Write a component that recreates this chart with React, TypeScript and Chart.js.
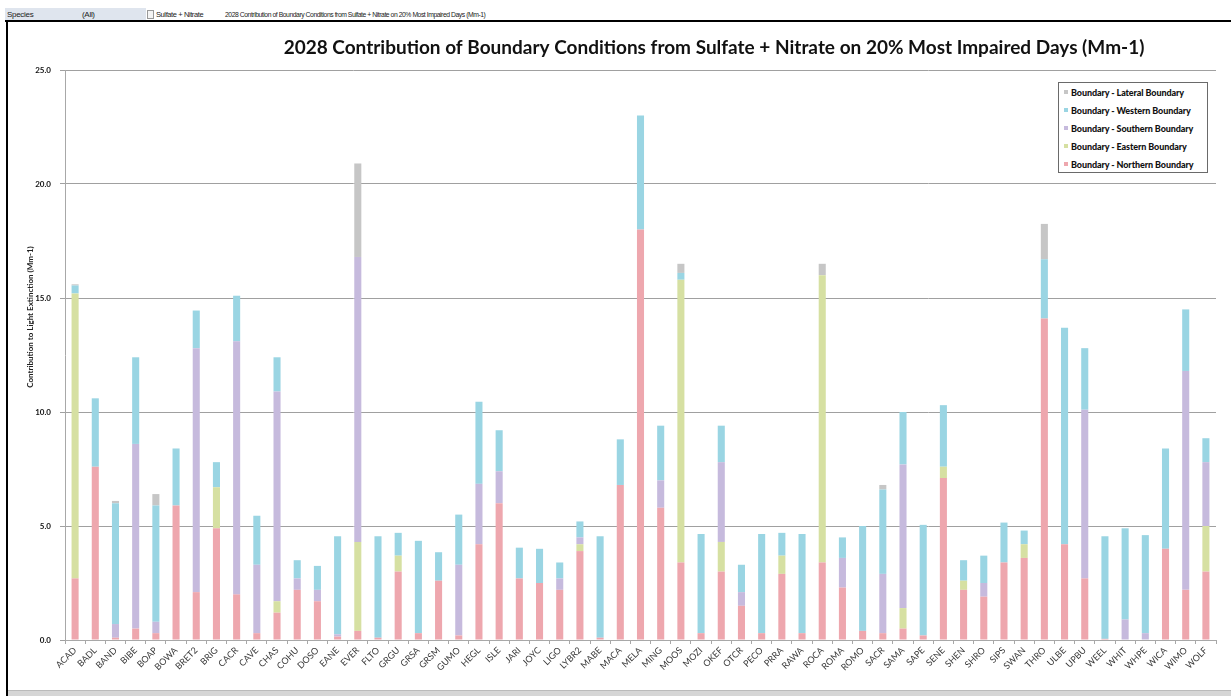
import React, { useEffect, useRef } from "react";
import { Chart, registerables } from "chart.js";

Chart.register(...registerables);

const categories = [
  "ACAD", "BADL", "BAND", "BIBE", "BOAP", "BOWA", "BRET2", "BRIG", "CACR", "CAVE",
  "CHAS", "COHU", "DOSO", "EANE", "EVER", "FLTO", "GRGU", "GRSA", "GRSM", "GUMO",
  "HEGL", "ISLE", "JARI", "JOYC", "LIGO", "LYBR2", "MABE", "MACA", "MELA", "MING",
  "MOOS", "MOZI", "OKEF", "OTCR", "PECO", "PRRA", "RAWA", "ROCA", "ROMA", "ROMO",
  "SACR", "SAMA", "SAPE", "SENE", "SHEN", "SHRO", "SIPS", "SWAN", "THRO", "ULBE",
  "UPBU", "WEEL", "WHIT", "WHPE", "WICA", "WIMO", "WOLF",
];

const northern = [
  2.7, 7.6, 0.1, 0.5, 0.3, 5.9, 2.1, 4.9, 2.0, 0.3,
  1.2, 2.2, 1.7, 0.15, 0.4, 0.1, 3.0, 0.3, 2.6, 0.2,
  4.2, 6.0, 2.7, 2.5, 2.2, 3.9, 0.1, 6.8, 18.0, 5.8,
  3.4, 0.3, 3.0, 1.5, 0.3, 2.9, 0.3, 3.4, 2.3, 0.4,
  0.3, 0.5, 0.2, 7.1, 2.2, 1.9, 3.4, 3.6, 14.1, 4.2,
  2.7, 0.05, 0, 0, 4.0, 2.2, 3.0,
];
const eastern = [
  12.5, 0, 0, 0, 0, 0, 0, 1.8, 0, 0,
  0.5, 0, 0, 0, 3.9, 0, 0.7, 0, 0, 0,
  0, 0, 0, 0, 0, 0.3, 0, 0, 0, 0,
  12.4, 0, 1.3, 0, 0, 0.8, 0, 12.6, 0, 0,
  0, 0.9, 0, 0.5, 0.4, 0, 0, 0.6, 0, 0,
  0, 0, 0, 0, 0, 0, 2.0,
];
const southern = [
  0, 0, 0.6, 8.1, 0.5, 0, 10.7, 0, 11.1, 3.0,
  9.2, 0.5, 0.5, 0.1, 12.5, 0, 0, 0, 0, 3.1,
  2.65, 1.4, 0, 0, 0.5, 0.3, 0, 0, 0, 1.2,
  0, 0, 3.5, 0.6, 0, 0, 0, 0, 1.3, 0,
  2.6, 6.3, 0, 0, 0, 0.6, 0, 0, 0, 0,
  7.4, 0, 0.9, 0.3, 0, 9.6, 2.8,
];
const western = [
  0.35, 3.0, 5.3, 3.8, 5.1, 2.5, 1.65, 1.1, 2.0, 2.15,
  1.5, 0.8, 1.05, 4.3, 0, 4.45, 1.0, 4.05, 1.25, 2.2,
  3.6, 1.8, 1.35, 1.5, 0.7, 0.7, 4.45, 2.0, 5.0, 2.4,
  0.3, 4.35, 1.6, 1.2, 4.35, 1.0, 4.35, 0, 0.9, 4.6,
  3.7, 2.3, 4.85, 2.7, 0.9, 1.2, 1.75, 0.6, 2.6, 9.5,
  2.7, 4.5, 4.0, 4.3, 4.4, 2.7, 1.05,
];
const lateral = [
  0.05, 0, 0.1, 0, 0.5, 0, 0, 0, 0, 0,
  0, 0, 0, 0, 4.1, 0, 0, 0, 0, 0,
  0, 0, 0, 0, 0, 0, 0, 0, 0, 0,
  0.4, 0, 0, 0, 0, 0, 0, 0.5, 0, 0,
  0.2, 0, 0, 0, 0, 0, 0, 0, 1.55, 0,
  0, 0, 0, 0, 0, 0, 0,
];

const yTicks = [0, 5, 10, 15, 20, 25];

const seriesNames = {
  lateral: "Boundary - Lateral Boundary",
  western: "Boundary - Western Boundary",
  southern: "Boundary - Southern Boundary",
  eastern: "Boundary - Eastern Boundary",
  northern: "Boundary - Northern Boundary",
};

const COLORS = {
  northern: "#eea7ae",
  eastern: "#d6e0a2",
  southern: "#c6badd",
  western: "#9ad5e3",
  lateral: "#c6c6c6",
};

const TITLE =
  "2028 Contribution of Boundary Conditions from Sulfate + Nitrate on 20% Most Impaired Days (Mm-1)";
const Y_TITLE = "Contribution to Light Extinction (Mm-1)";

const FONT = "Lato, 'Open Sans', sans-serif";

const textPlugin = {
  id: "customText",
  afterDraw(chart: any) {
    const ctx = chart.ctx;
    ctx.save();
    ctx.fillStyle = "#111";
    ctx.font = `bold 19px ${FONT}`;
    ctx.textAlign = "center";
    ctx.textBaseline = "middle";
    ctx.fillText(TITLE, 707, 26);
    ctx.translate(23, 295);
    ctx.rotate(-Math.PI / 2);
    ctx.font = `bold 8px ${FONT}`;
    ctx.fillStyle = "#222";
    ctx.fillText(Y_TITLE, 0, 0);
    ctx.restore();
  },
};

function ChartCanvas() {
  const ref = useRef<HTMLCanvasElement | null>(null);
  useEffect(() => {
    if (!ref.current) return;
    const mk = (key: keyof typeof COLORS, data: number[]) => ({
      label: (seriesNames as any)[key],
      data,
      backgroundColor: COLORS[key],
      borderWidth: 0,
      barPercentage: 0.35,
      categoryPercentage: 1,
    });
    const chart = new Chart(ref.current, {
      type: "bar",
      data: {
        labels: categories,
        datasets: [
          mk("northern", northern),
          mk("eastern", eastern),
          mk("southern", southern),
          mk("western", western),
          mk("lateral", lateral),
        ],
      },
      options: {
        animation: false,
        responsive: true,
        maintainAspectRatio: false,
        layout: { padding: { top: 48, right: 13, left: 0, bottom: 0 } },
        plugins: {
          legend: { display: false },
          title: { display: false },
          tooltip: { enabled: false },
        },
        scales: {
          x: {
            stacked: true,
            offset: true,
            afterFit: (s: any) => {
              s.height = 50;
            },
            grid: {
              display: true,
              drawOnChartArea: false,
              offset: true,
              tickLength: 4,
              color: "#a8a8a8",
            },
            border: { color: "#a8a8a8" },
            ticks: {
              autoSkip: false,
              maxRotation: 45,
              minRotation: 45,
              padding: 1,
              color: "#3a3a3a",
              font: { family: FONT, size: 9 },
            },
          },
          y: {
            stacked: true,
            min: 0,
            max: 25,
            afterFit: (s: any) => {
              s.width = 58;
            },
            afterBuildTicks: (s: any) => {
              s.ticks = yTicks.map((v) => ({ value: v }));
            },
            grid: {
              color: "#a0a0a0",
              tickLength: 5,
            },
            border: { color: "#a8a8a8" },
            ticks: {
              padding: 9,
              color: "#111",
              font: { family: FONT, size: 8, weight: "bold" },
              callback: (v: any) => Number(v).toFixed(1),
            },
          },
        },
      },
      plugins: [textPlugin],
    });
    return () => chart.destroy();
  }, []);
  return <canvas ref={ref} />;
}

const legendOrder: (keyof typeof COLORS)[] = ["lateral", "western", "southern", "eastern", "northern"];

export default function App() {
  const small = { fontFamily: "'Liberation Sans', Arial, sans-serif", fontSize: 8, color: "#222", position: "absolute" as const, top: 10, lineHeight: "10px", whiteSpace: "nowrap" as const };
  return (
    <div style={{ position: "absolute", left: 0, top: 0, width: 1231, height: 696, background: "#fff", overflow: "hidden" }}>
      <div style={{ position: "absolute", left: 5, top: 8, width: 141, height: 12, background: "#dfe5ee" }} />
      <div style={{ ...small, left: 7, letterSpacing: -0.3 }}>Species</div>
      <div style={{ ...small, left: 82, letterSpacing: -0.3 }}>(All)</div>
      <div style={{ position: "absolute", left: 147, top: 10, width: 5, height: 7, border: "1px solid #999", background: "#f4f4f4" }} />
      <div style={{ ...small, left: 156, letterSpacing: -0.4, fontSize: 7.5 }}>Sulfate + Nitrate</div>
      <div style={{ ...small, left: 225, letterSpacing: -0.45, fontSize: 6.8 }}>{TITLE}</div>
      <div style={{ position: "absolute", left: 5, top: 20, width: 1226, height: 2, background: "#000" }} />
      <div style={{ position: "absolute", left: 6, top: 20, width: 2, height: 676, background: "#000" }} />
      <div style={{ position: "absolute", left: 8, top: 690, width: 1223, height: 6, background: "#d6d6d6", borderTop: "1px solid #bbb" }} />
      <div style={{ position: "absolute", left: 7, top: 22, width: 1222, height: 668 }}>
        <ChartCanvas />
      </div>
      <div
        style={{
          position: "absolute",
          left: 1058,
          top: 82,
          width: 150,
          height: 91,
          border: "1px solid #6a6a6a",
          background: "#fff",
          boxSizing: "border-box",
          padding: "0 0 0 5px",
        }}
      >
        {legendOrder.map((k) => (
          <div key={k} style={{ display: "flex", alignItems: "center", height: 18, fontFamily: FONT, fontWeight: 900, fontSize: 9, letterSpacing: -0.1, color: "#111", whiteSpace: "nowrap" }}>
            <span style={{ display: "inline-block", width: 4, height: 4, background: COLORS[k], marginRight: 3 }} />
            {seriesNames[k]}
          </div>
        ))}
      </div>
    </div>
  );
}
